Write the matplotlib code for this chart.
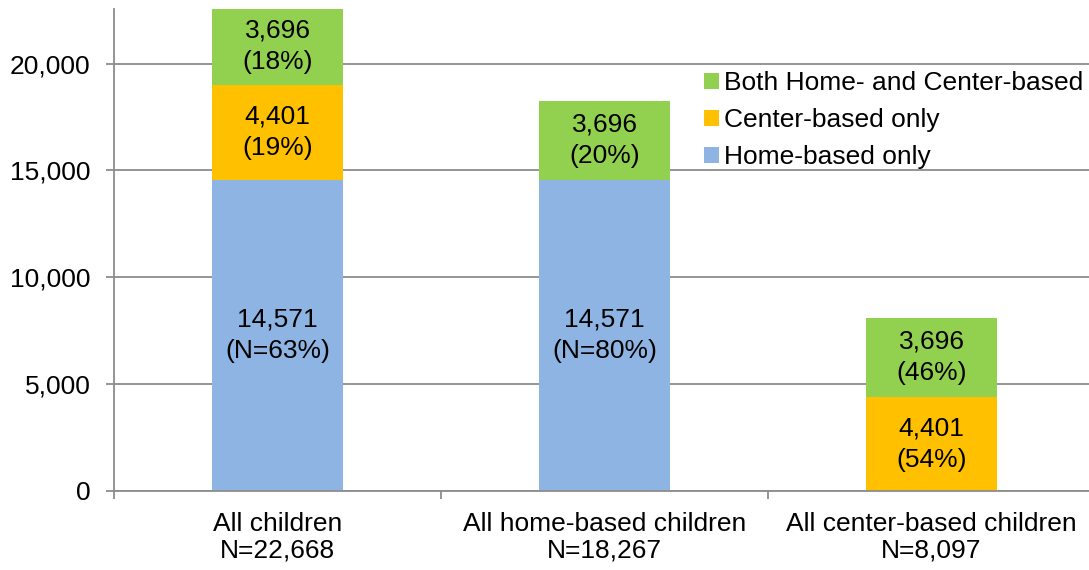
import matplotlib.pyplot as plt
from matplotlib.ticker import FuncFormatter

plt.rcParams['font.family'] = ['Liberation Sans', 'DejaVu Sans']

# data
categories = ["All children\nN=22,668", "All home-based children\nN=18,267",
              "All center-based children\nN=8,097"]
home = [14571, 14571, 0]
center = [4401, 0, 4401]
both = [3696, 3696, 3696]
home_pct = ["(N=63%)", "(N=80%)", ""]
center_pct = ["(19%)", "", "(54%)"]
both_pct = ["(18%)", "(20%)", "(46%)"]

c_home = "#8DB4E2"
c_center = "#FFC000"
c_both = "#92D050"
grid_c = "#8C8C8C"
fs = 19

fig = plt.figure(figsize=(10.89, 5.70), dpi=100)
ax = fig.add_axes([114/1089, 79/570, 981/1089, 482/570])

x = range(len(categories))
w = 0.4
b1 = ax.bar(x, home, w, color=c_home, label="Home-based only", zorder=2)
b2 = ax.bar(x, center, w, bottom=home, color=c_center, label="Center-based only", zorder=2)
bottom2 = [h + c for h, c in zip(home, center)]
b3 = ax.bar(x, both, w, bottom=bottom2, color=c_both, label="Both Home- and Center-based", zorder=2)

# segment labels
ls = 1.4
for i in x:
    if home[i]:
        ax.text(i, home[i] / 2, f"{home[i]:,}\n{home_pct[i]}", ha="center", va="center",
                fontsize=fs, linespacing=ls, zorder=3)
    if center[i]:
        ax.text(i, home[i] + center[i] / 2, f"{center[i]:,}\n{center_pct[i]}", ha="center",
                va="center", fontsize=fs, linespacing=ls, zorder=3)
    ax.text(i, bottom2[i] + both[i] / 2, f"{both[i]:,}\n{both_pct[i]}", ha="center",
            va="center", fontsize=fs, linespacing=ls, zorder=3)

ax.set_xlim(-0.5, 2.5)
ax.set_ylim(0, 22550)
ax.set_yticks([0, 5000, 10000, 15000, 20000])
ax.yaxis.set_major_formatter(FuncFormatter(lambda v, p: f"{int(v):,}"))
ax.grid(axis="y", color=grid_c, linewidth=1.3, zorder=0)

# category labels centered, ticks at boundaries
ax.set_xticks([-0.5, 0.5, 1.5, 2.5])
ax.set_xticklabels([])
ax.set_xticks(list(x), minor=True)
ax.set_xticklabels(categories, minor=True, fontsize=fs, linespacing=1.12)
ax.tick_params(axis="x", which="minor", length=0, pad=15)
ax.tick_params(axis="x", which="major", length=6, width=1.3, color=grid_c)
ax.tick_params(axis="y", length=6, width=1.3, color=grid_c, labelsize=fs, pad=11)

for s in ["top", "right"]:
    ax.spines[s].set_visible(False)
for s in ["left", "bottom"]:
    ax.spines[s].set_color(grid_c)
    ax.spines[s].set_linewidth(1.3)

ax.legend(handles=[b3, b2, b1], loc="upper left", bbox_to_anchor=(704/1089, 1 - 71/570),
          bbox_transform=fig.transFigure, frameon=False, fontsize=fs,
          handlelength=0.55, handleheight=0.55, handletextpad=0.2, labelspacing=0.5,
          borderaxespad=0, borderpad=0)

fig.savefig("out.png", dpi=100)
